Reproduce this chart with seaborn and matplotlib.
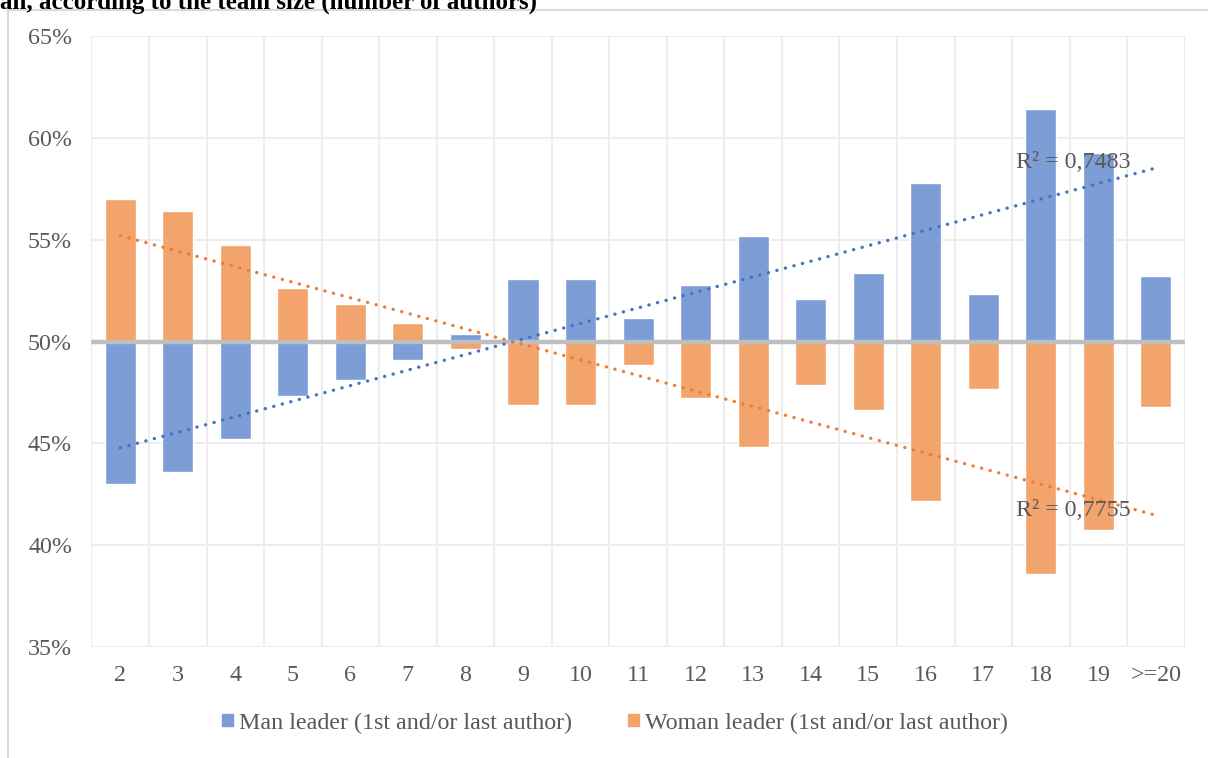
import matplotlib
matplotlib.use("Agg")
import matplotlib.pyplot as plt
import matplotlib.patches as mpatches
import numpy as np
import pandas as pd
import seaborn as sns

# data (share of papers, %)
team_size = ['2', '3', '4', '5', '6', '7', '8', '9', '10', '11', '12', '13', '14',
             '15', '16', '17', '18', '19', '>=20']
man_leader = [43.0, 43.6, 45.2, 47.35, 48.1, 49.1, 50.35, 53.05, 53.05, 51.15, 52.8,
              55.2, 52.1, 53.35, 57.8, 52.35, 61.4, 59.25, 53.2]
woman_leader = [57.0, 56.4, 54.75, 52.65, 51.85, 50.9, 49.65, 46.9, 46.9, 48.85, 47.25,
                44.8, 47.85, 46.65, 42.15, 47.65, 38.6, 40.75, 46.8]
series_names = ['Man leader (1st and/or last author)', 'Woman leader (1st and/or last author)']
r2_labels = ['R² = 0,7483', 'R² = 0,7755']
y_ticks = [35, 40, 45, 50, 55, 60, 65]

bar_colors = ['#7C9DD6', '#F2A46C']
trend_colors = ['#4472C4', '#ED7D31']
txt_color = '#595959'
fs = 17.3

sns.set_style('white')
plt.rcParams['font.family'] = ['Liberation Serif', 'DejaVu Serif']

df = pd.DataFrame({
    'size': team_size * 2,
    'series': [series_names[0]] * len(team_size) + [series_names[1]] * len(team_size),
    'value': man_leader + woman_leader,
})
df['offset'] = df['value'] - 50

fig = plt.figure(figsize=(12.08, 7.58), dpi=100)
ax = fig.add_axes([0.0757, 0.1464, 0.905, 0.806])

# outer chart frame
fig.patches.append(mpatches.Rectangle((8 / 1208, -0.05), 1.1, 1 - 10 / 758 + 0.05,
                                      transform=fig.transFigure, fill=False,
                                      edgecolor='#D9D9D9', linewidth=1.5))

sns.barplot(data=df, x='size', y='offset', hue='series', hue_order=series_names,
            order=team_size, palette=bar_colors, dodge=False, width=0.54, bottom=50,
            saturation=1, errorbar=None, legend=False, ax=ax, zorder=2)

ax.axhline(50, color='#BFBFBF', linewidth=3.2, zorder=3)

# linear trendlines
pos = np.arange(len(team_size), dtype=float)
for vals, col in zip([man_leader, woman_leader], trend_colors):
    sns.regplot(x=pos, y=np.array(vals), scatter=False, ci=None, ax=ax,
                line_kws=dict(color=col, linewidth=2.4, linestyle=(0, (0.05, 2.6)),
                              dash_capstyle='round', zorder=4))

ax.text(15.57, 58.8, r2_labels[0], fontsize=fs, color=txt_color, va='center', ha='left', zorder=5)
ax.text(15.57, 41.7, r2_labels[1], fontsize=fs, color=txt_color, va='center', ha='left', zorder=5)

ax.set_xlim(-0.5, len(team_size) - 0.5)
ax.set_ylim(35, 65)
ax.set_yticks(y_ticks)
ax.set_yticklabels([f'{t}%' for t in y_ticks])
ax.set_xticks(pos)
ax.set_xticklabels(team_size)
ax.set_xticks(np.arange(-0.5, len(team_size), 1.0), minor=True)
ax.set_axisbelow(True)
ax.grid(axis='y', which='major', color='#EDEDED', linewidth=1.5)
ax.grid(axis='x', which='minor', color='#EDEDED', linewidth=1.5)
ax.grid(axis='x', which='major', visible=False)
ax.tick_params(axis='both', which='both', length=0, labelsize=fs, labelcolor=txt_color)
ax.tick_params(axis='y', pad=14)
ax.tick_params(axis='x', pad=13)
ax.set_xlabel('')
ax.set_ylabel('')
for s in ax.spines.values():
    s.set_visible(False)

handles = [mpatches.Patch(color=c, label=n) for c, n in zip(bar_colors, series_names)]
fig.legend(handles=handles, loc='center', bbox_to_anchor=(615 / 1208, 1 - 723 / 758),
           ncol=2, frameon=False, fontsize=fs, labelcolor=txt_color,
           handlelength=0.45, handleheight=0.45, handletextpad=0.25, columnspacing=2.35)

# chart title, cut off at the top edge as in the source
fig.text(0, 1 - 9 / 758, 'an, according to the team size (number of authors)',
         fontsize=18, fontweight='bold', color='black', ha='left', va='baseline')

fig.savefig('out.png', dpi=100)
